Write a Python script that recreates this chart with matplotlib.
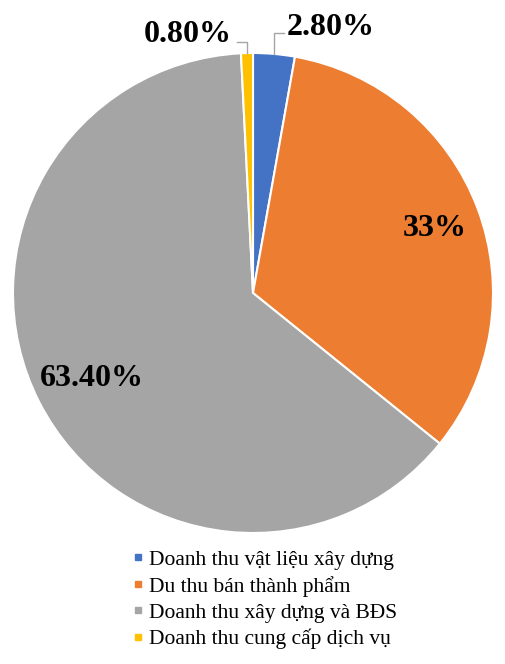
import numpy as np
import matplotlib
matplotlib.use("Agg")
import matplotlib.pyplot as plt
from matplotlib.lines import Line2D

# ── data ────────────────────────────────────────────────────────────────
CATEGORIES = [
    "Doanh thu vật liệu xây dựng",
    "Du thu bán thành phẩm",
    "Doanh thu xây dựng và BĐS",
    "Doanh thu cung cấp dịch vụ",
]
VALUES = [2.8, 33.0, 63.4, 0.8]
LABELS = ["2.80%", "33%", "63.40%", "0.80%"]
COLORS = ["#4472C4", "#ED7D31", "#A5A5A5", "#FFC000"]

plt.rcParams["font.family"] = ["Liberation Serif", "DejaVu Serif"]

W, H = 505, 664
R_PX = 240.0
CX, CY = 253, 664 - 293

fig = plt.figure(figsize=(W / 100, H / 100), dpi=100)
ax = fig.add_axes([0, 0, 1, 1])

wedges, _ = ax.pie(VALUES, colors=COLORS, startangle=90, counterclock=False,
                   radius=1.0, wedgeprops=dict(edgecolor="white", linewidth=1.5))
ax.set_xlim(-CX / R_PX, (W - CX) / R_PX)
ax.set_ylim(-CY / R_PX, (H - CY) / R_PX)
ax.axis("off")

lbl_font = dict(fontsize=23, fontweight="bold", color="black")

# inside labels for the big slices
for i, r in ((1, 0.81), (2, 0.755)):
    w = wedges[i]
    mid = np.deg2rad((w.theta1 + w.theta2) / 2)
    ax.text(r * np.cos(mid), r * np.sin(mid), LABELS[i],
            ha="center", va="center_baseline", **lbl_font)

# outside labels with leader lines for the small slices
lead = dict(color="#A5A5A5", lw=1.0)
# 2.80%
w = wedges[0]
mid = np.deg2rad((w.theta1 + w.theta2) / 2)
ex, ey = np.cos(mid), np.sin(mid)
ax.plot([ex, ex, ex + 0.042], [ey, 1.083, 1.083], **lead)
ax.text(ex + 0.052, 1.075, LABELS[0], ha="left", va="baseline", **lbl_font)
# 0.80%
w = wedges[3]
mid = np.deg2rad((w.theta1 + w.theta2) / 2)
ex, ey = np.cos(mid), np.sin(mid)
ax.plot([ex, ex, ex - 0.042], [ey, 1.046, 1.046], **lead)
ax.text(ex - 0.062, 1.046, LABELS[3], ha="right", va="baseline", **lbl_font)

# legend with small square markers
handles = [Line2D([], [], marker="s", linestyle="", color=c, markersize=5)
           for c in COLORS]
leg = fig.legend(handles, CATEGORIES, loc="upper left",
                 bbox_to_anchor=(121 / W, 1 - 539 / H), frameon=False,
                 fontsize=15.5, handlelength=0.6, handletextpad=0.2,
                 labelspacing=0.28, borderpad=0)

fig.savefig("out.png", dpi=100)
